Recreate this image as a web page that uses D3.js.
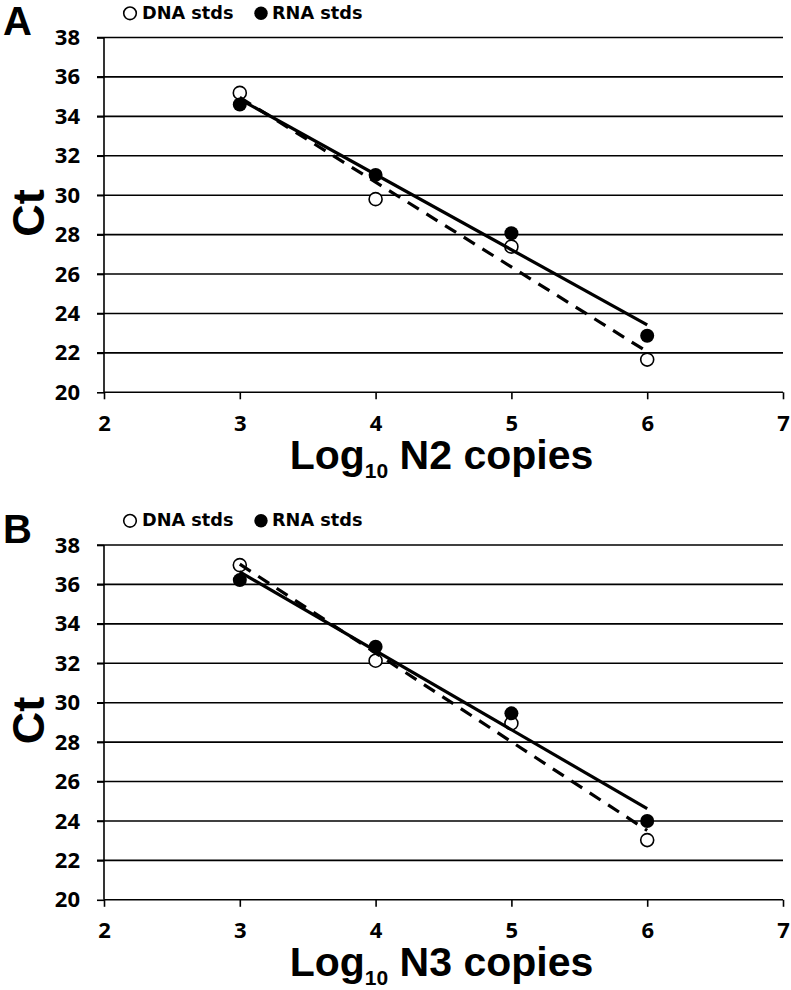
<!DOCTYPE html>
<html>
<head>
<meta charset="utf-8">
<script src="https://cdn.jsdelivr.net/npm/d3@7"></script>
<style>
  html, body { margin: 0; padding: 0; background: #fff; }
  svg { display: block; }
</style>
</head>
<body>
<svg id="chart" width="791" height="990"></svg>
<script>
// ---- data ----
const xValues = [3, 4, 5, 6];
const dnaA = [35.19, 29.80, 27.39, 21.66];
const rnaA = [34.60, 31.03, 28.07, 22.87];
const dnaB = [36.98, 32.13, 28.95, 23.03];
const rnaB = [36.22, 32.84, 29.46, 24.00];
const xTicks = [2, 3, 4, 5, 6, 7];
const yTicks = [20, 22, 24, 26, 28, 30, 32, 34, 36, 38];
const panelLetters = ["A", "B"];
const geneNames = ["N2", "N3"];
const legendLabels = ["DNA stds", "RNA stds"];

const svg = d3.select("#chart");
const tickFont = "'Open Sans', 'DejaVu Sans', sans-serif";
const legendFont = "'DejaVu Sans', 'Open Sans', sans-serif";
const titleFont = "'Liberation Sans', Arial, sans-serif";

function linreg(xs, ys) {
  const n = xs.length;
  const mx = d3.mean(xs), my = d3.mean(ys);
  let sxy = 0, sxx = 0;
  for (let i = 0; i < n; i++) { sxy += (xs[i] - mx) * (ys[i] - my); sxx += (xs[i] - mx) ** 2; }
  const b = sxy / sxx;
  const a = my - b * mx;
  return x => a + b * x;
}

function drawPanel(offsetY, letter, gene, dna, rna) {
  const g = svg.append("g").attr("transform", `translate(0,${offsetY})`);
  const top = 37.5, bottom = 392.3, left = 104, right = 783;
  const x = d3.scaleLinear().domain([2, 7]).range([left, right]);
  const y = d3.scaleLinear().domain([20, 38]).range([bottom, top]);

  // panel letter
  g.append("text").attr("x", 3).attr("y", 35)
    .attr("font-family", titleFont).attr("font-weight", 700).attr("font-size", 40)
    .attr("fill", "#000").text(letter);

  // legend
  const lg = g.append("g");
  lg.append("circle").attr("cx", 130).attr("cy", 13.3).attr("r", 6.3)
    .attr("fill", "#fff").attr("stroke", "#000").attr("stroke-width", 1.6);
  lg.append("text").attr("x", 142).attr("y", 18.6)
    .attr("font-family", legendFont).attr("font-weight", 700).attr("font-size", 17.7)
    .text(legendLabels[0]);
  lg.append("circle").attr("cx", 261).attr("cy", 13.3).attr("r", 6.7).attr("fill", "#000");
  lg.append("text").attr("x", 272).attr("y", 18.6)
    .attr("font-family", legendFont).attr("font-weight", 700).attr("font-size", 17.7)
    .text(legendLabels[1]);

  // gridlines
  g.append("g").selectAll("line").data(yTicks.filter(d => d !== 20)).join("line")
    .attr("x1", left - 7).attr("x2", right)
    .attr("y1", d => y(d)).attr("y2", d => y(d))
    .attr("stroke", "#000").attr("stroke-width", 1.6);

  // y axis
  const ya = g.append("g").attr("transform", `translate(${left},0)`)
    .call(d3.axisLeft(y).tickValues(yTicks).tickSize(7).tickPadding(17).tickFormat(d3.format("d")));
  ya.select(".domain").attr("stroke", "#000").attr("stroke-width", 1.6).attr("d", `M0,${top}V${bottom}`);
  ya.selectAll(".tick line").attr("stroke", "#000").attr("stroke-width", 1.6);
  ya.selectAll(".tick text").attr("font-family", tickFont).attr("font-weight", 700)
    .attr("font-size", 22).attr("fill", "#000");

  // x axis
  const xa = g.append("g").attr("transform", `translate(0,${bottom})`)
    .call(d3.axisBottom(x).tickValues(xTicks).tickSize(7).tickPadding(16).tickFormat(d3.format("d")));
  xa.select(".domain").attr("stroke", "#000").attr("stroke-width", 1.6).attr("d", `M${left},0H${right}`);
  xa.selectAll(".tick line").attr("stroke", "#000").attr("stroke-width", 1.6);
  xa.selectAll(".tick text").attr("font-family", tickFont).attr("font-weight", 700)
    .attr("font-size", 22).attr("fill", "#000");

  // y title
  g.append("text")
    .attr("transform", `translate(44,${(top + bottom) / 2 - 2}) rotate(-90)`)
    .attr("text-anchor", "middle")
    .attr("font-family", titleFont).attr("font-weight", 700).attr("font-size", 45)
    .text("Ct");

  // x title
  const xt = g.append("text")
    .attr("x", (left + right) / 2 - 2).attr("y", 468.5)
    .attr("text-anchor", "middle")
    .attr("font-family", titleFont).attr("font-weight", 700).attr("font-size", 41);
  xt.append("tspan").text("Log");
  xt.append("tspan").attr("font-size", 21).attr("dy", 9).text("10");
  xt.append("tspan").attr("dy", -9).text(" " + gene + " copies");

  // markers
  g.append("g").selectAll("circle").data(xValues.map((d, i) => [d, dna[i]])).join("circle")
    .attr("cx", d => x(d[0])).attr("cy", d => y(d[1])).attr("r", 6.5)
    .attr("fill", "#fff").attr("stroke", "#000").attr("stroke-width", 1.6);
  g.append("g").selectAll("circle").data(xValues.map((d, i) => [d, rna[i]])).join("circle")
    .attr("cx", d => x(d[0])).attr("cy", d => y(d[1])).attr("r", 7)
    .attr("fill", "#000");

  // trendlines
  const fd = linreg(xValues, dna), fr = linreg(xValues, rna);
  const x0 = d3.min(xValues), x1 = d3.max(xValues);
  const line = d3.line().x(d => x(d[0])).y(d => y(d[1]));
  g.append("path").attr("d", line([[x0, fd(x0)], [x1, fd(x1)]]))
    .attr("fill", "none").attr("stroke", "#000").attr("stroke-width", 3.2)
    .attr("stroke-dasharray", "13,9");
  g.append("path").attr("d", line([[x0, fr(x0)], [x1, fr(x1)]]))
    .attr("fill", "none").attr("stroke", "#000").attr("stroke-width", 3.2);
}

drawPanel(0, panelLetters[0], geneNames[0], dnaA, rnaA);
drawPanel(507.5, panelLetters[1], geneNames[1], dnaB, rnaB);
</script>
</body>
</html>
